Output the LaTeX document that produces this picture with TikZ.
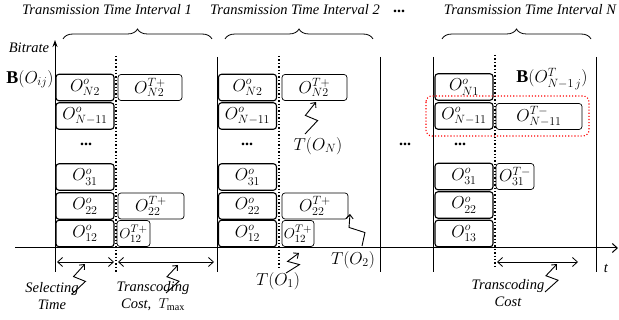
\documentclass[tikz,border=0pt]{standalone}
\usepackage{fontspec}
\setmainfont{Liberation Serif}
\usetikzlibrary{arrows.meta, decorations.pathreplacing, calc}

\begin{document}
\begin{tikzpicture}[x=1pt,y=-1pt,
  obox/.style={draw, rounded corners=3pt, line width=1.1pt, minimum width=58pt, minimum height=26.5pt, inner sep=0pt, font=\fontsize{17.5}{17.5}\selectfont},
  tbox/.style={draw, rounded corners=3pt, line width=0.7pt, minimum height=26pt, inner sep=0pt, font=\fontsize{17.5}{17.5}\selectfont},
  lbl/.style={font=\fontsize{14.5}{17}\selectfont\itshape, align=center},
  mlbl/.style={font=\fontsize{17}{17}\selectfont},
  vdots/.style={font=\fontsize{16}{16}\selectfont\bfseries, inner sep=1pt},
  zig/.style={line width=0.9pt, -{Straight Barb[length=4pt,width=7pt]}},
  span/.style={line width=0.8pt, {Straight Barb[length=5pt,width=9pt]}-{Straight Barb[length=5pt,width=9pt]}},
  tbrace/.style={line width=0.8pt, decorate, decoration={brace, amplitude=10pt}}]
\useasboundingbox (0,0) rectangle (619,320);

% titles and braces
\node[lbl] (ttl1) at (107,10) {Transmission Time Interval 1};
\node[lbl] (ttl2) at (295,10) {Transmission Time Interval 2};
\node[vdots] (ttld) at (399,11) {...};
\node[lbl] (ttlN) at (530,10) {Transmission Time Interval N};
\draw[tbrace] (63,39) -- (212,39);
\draw[tbrace] (225,39) -- (373,39);
\draw[tbrace] (442,39) -- (591,39);

% axes and interval lines
\draw[line width=1pt, -{Stealth[length=7pt,width=5pt]}] (55,272) -- (55,40);
\draw[line width=1pt, -{Straight Barb[length=5pt,width=9pt]}] (15,248) -- (618,248);
\foreach \x in {217,380,433,596}
  \draw[line width=0.8pt] (\x,57) -- (\x,272);
\draw[line width=1.4pt, dotted] (116,56) -- (116,272);
\draw[line width=1.4pt, dotted] (279,56) -- (279,268);
\draw[line width=1.4pt, dotted] (495,55) -- (495,267);
\node[lbl] (bitrate) at (29,48) {Bitrate};
\node[font=\fontsize{18}{18}\selectfont] (bij) at (30,79) {$\mathbf{B}\big(O_{ij}\big)$};
\node[lbl] (tlbl) at (606,268) {t};

% interval 1
\node[obox] (a1) at (85,87.5) {$O^{o}_{N2}$};
\node[obox] (a2) at (85,116) {$O^{o}_{N-11}$};
\node[vdots] (a3) at (86,144) {...};
\node[obox] (a4) at (85,177) {$O^{o}_{31}$};
\node[obox] (a5) at (85,206) {$O^{o}_{22}$};
\node[obox] (a6) at (85,233.5) {$O^{o}_{12}$};
\node[tbox, minimum width=64pt] (ta1) at (150,87.5) {$O^{T+}_{N2}$};
\node[tbox, minimum width=66pt] (ta5) at (151,206) {$O^{T+}_{22}$};
\node[tbox, minimum width=33pt, font=\fontsize{15.5}{15.5}\selectfont] (ta6) at (133.5,233.5) {$O^{T+}_{12}$};

% interval 2
\node[obox] (b1) at (247.5,87.5) {$O^{o}_{N2}$};
\node[obox] (b2) at (247.5,116) {$O^{o}_{N-11}$};
\node[vdots] (b3) at (247,144) {...};
\node[obox] (b4) at (247.5,177) {$O^{o}_{31}$};
\node[obox] (b5) at (247.5,206) {$O^{o}_{22}$};
\node[obox] (b6) at (247.5,233.5) {$O^{o}_{12}$};
\node[tbox, minimum width=65pt] (tb1) at (314.5,87.5) {$O^{T+}_{N2}$};
\node[tbox, minimum width=66pt] (tb5) at (315,206) {$O^{T+}_{22}$};
\node[tbox, minimum width=32pt, font=\fontsize{15.5}{15.5}\selectfont] (tb6) at (298,233.5) {$O^{T+}_{12}$};
\node[vdots] (mid) at (405,144) {...};

% interval N
\node[obox] (c1) at (464,87) {$O^{o}_{N1}$};
\node[obox] (c2) at (464,116) {$O^{o}_{N-11}$};
\node[vdots] (c3) at (460,144) {...};
\node[obox] (c4) at (464,176.5) {$O^{o}_{31}$};
\node[obox] (c5) at (464,205) {$O^{o}_{22}$};
\node[obox] (c6) at (464,233.5) {$O^{o}_{13}$};
\node[tbox, minimum width=86pt] (tc2) at (539,116.5) {$O^{T-}_{N-11}$};
\node[tbox, minimum width=38pt] (tc4) at (515,176.5) {$O^{T-}_{31}$};
\node[font=\fontsize{18}{18}\selectfont] (bnj) at (552,79) {$\mathbf{B}\big(O^{T}_{N-1\,j}\big)$};
\draw[red, line width=1.1pt, dotted, rounded corners=6pt] (426,96) rectangle (589,136);

% time spans below the axis
\draw[span] (57,262) -- (114,262);
\draw[span] (118,262) -- (214,262);
\draw[span] (497,262) -- (578,262);
\node[lbl] (sel) at (52,296) {Selecting\\Time};
\node[lbl] (cost1) at (153,296) {Transcoding\\Cost,\ \ $T_{\max}$};
\node[lbl] (costN) at (508,293) {Transcoding\\Cost};
\node[mlbl] (to1) at (278,281) {$T\big(O_1\big)$};
\node[mlbl] (to2) at (353,260) {$T\big(O_2\big)$};
\node[mlbl] (toN) at (318,146) {$T\big(O_N\big)$};

% zigzag pointers
\coordinate (z1s) at (72,294);  \coordinate (z1e) at (85,264);
\coordinate (z2s) at (166,293); \coordinate (z2e) at (178,265);
\coordinate (z3s) at (545,292); \coordinate (z3e) at (557,264);
\coordinate (z4s) at (305,134); \coordinate (z4e) at (316,102);
\coordinate (z5s) at (362,246); \coordinate (z5e) at (350,214);
\coordinate (z6s) at (286,273); \coordinate (z6e) at (299,253);
\foreach \s/\e in {z1s/z1e, z2s/z2e, z3s/z3e, z4s/z4e, z5s/z5e, z6s/z6e}
  \draw[zig] (\s) -- ($(\s)!.42!(\e)+(8,0)$) -- ($(\s)!.58!(\e)+(-6,0)$) -- (\e);
\end{tikzpicture}
\end{document}
